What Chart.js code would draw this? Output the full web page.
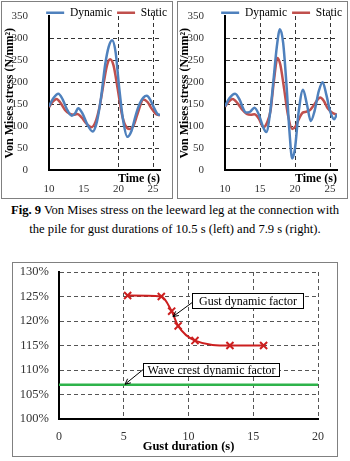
<!DOCTYPE html>
<html><head><meta charset="utf-8">
<script src="https://cdn.jsdelivr.net/npm/chart.js@4/dist/chart.umd.min.js"></script>
<style>
html,body{margin:0;padding:0;background:#fff;}
body{width:350px;height:461px;position:relative;overflow:hidden;font-family:"Liberation Serif","Times New Roman",serif;}
.box{position:absolute;box-sizing:border-box;border:1px solid #808080;background:#fff;}
.box canvas{display:block;}
#cap{position:absolute;left:0;top:201px;width:350px;text-align:center;font-size:12.6px;line-height:19px;color:#000;white-space:nowrap;}
</style></head><body>
<div class="box" style="left:1px;top:1px;width:172px;height:198px;"><canvas id="c1" width="170" height="196"></canvas></div>
<div class="box" style="left:177px;top:1px;width:171px;height:198px;"><canvas id="c2" width="169" height="196"></canvas></div>
<div id="cap"><b>Fig. 9</b> Von Mises stress on the leeward leg at the connection with<br>the pile for gust durations of 10.5 s (left) and 7.9 s (right).</div>
<div class="box" style="left:12px;top:262px;width:326px;height:195px;"><canvas id="c3" width="324" height="193"></canvas></div>
<script>
// ---------- data ----------
const leftDynamicTime  = [10, 10.6, 11.35, 12.0, 12.6, 13.3, 13.8, 14.2, 14.8, 15.5, 16.3, 16.9, 17.5, 18.1, 18.6, 19.1, 19.6, 20.1, 20.7, 21.3, 21.9, 22.5, 23.1, 23.6, 24.1, 24.6, 25.2, 25.7, 26];
const leftDynamicValue = [145, 163, 174, 160, 138, 124, 130, 141, 130, 105, 88, 110, 165, 240, 280, 295, 268, 190, 112, 76, 90, 125, 152, 165, 169, 160, 140, 127, 126];
const leftStaticTime   = [10, 10.5, 11.1, 11.7, 12.3, 13.0, 13.6, 14.1, 14.7, 15.4, 16.1, 16.7, 17.3, 17.9, 18.4, 18.8, 19.3, 19.9, 20.5, 21.0, 21.6, 22.2, 22.8, 23.6, 24.2, 24.8, 25.4, 26];
const leftStaticValue  = [143, 155, 162, 152, 137, 128, 126, 128, 120, 106, 98, 110, 145, 200, 240, 252, 238, 185, 128, 102, 94, 102, 130, 161, 155, 140, 128, 125];

const rightDynamicTime  = [10, 10.6, 11.45, 12.1, 12.6, 13.0, 13.6, 14.2, 14.8, 15.4, 15.9, 16.4, 16.9, 17.4, 17.85, 18.3, 18.8, 19.2, 19.6, 20.0, 20.5, 21.15, 21.7, 22.25, 22.8, 23.4, 23.95, 24.5, 25.0, 25.6, 26];
const rightDynamicValue = [145, 163, 174, 160, 140, 131, 133, 142, 128, 100, 87, 125, 200, 280, 320, 290, 190, 90, 27, 50, 130, 183, 150, 112, 135, 180, 200, 170, 135, 116, 128];
const rightStaticTime   = [10, 10.5, 11.1, 11.8, 12.5, 13.1, 13.7, 14.2, 14.8, 15.5, 16.0, 16.5, 17.0, 17.5, 17.9, 18.4, 19.0, 19.6, 20.1, 20.6, 21.1, 21.6, 22.1, 22.7, 23.2, 23.6, 24.1, 24.7, 25.4, 26];
const rightStaticValue  = [144, 155, 162, 152, 137, 128, 126, 127, 118, 98, 108, 135, 205, 255, 240, 190, 125, 94, 100, 118, 131, 133, 136, 148, 160, 165, 158, 140, 130, 126];

const gustDuration      = [5.3, 7.9, 8.7, 9.2, 10.5, 13.2, 15.8];
const gustDynamicFactor = [125.2, 125.0, 122.0, 119.0, 116.0, 115.0, 115.0];
const waveCrestRange    = [0, 20];
const waveCrestFactor   = 107;

const seriesNames = ['Dynamic', 'Static'];
const yTitleTop = 'Von Mises stress (N/mm²)';
const xTitleTop = 'Time (s)';
const xTitleBottom = 'Gust duration (s)';
const calloutTexts = ['Gust dynamic factor', 'Wave crest dynamic factor'];

// ---------- style ----------
const SERIF = '"Liberation Serif", "Times New Roman", serif';
const BLUE = '#4f81bd', RED = '#c0504d', RED2 = '#cc1f1f', GREEN = '#2eb34a';
Chart.defaults.font.family = SERIF;
Chart.defaults.color = '#000';

const pts = (xs, ys) => xs.map((x, i) => ({x: x, y: ys[i]}));
const clear = 'rgba(0,0,0,0)';

const legendNudge = {
  id: 'legendNudge',
  afterLayout(chart) {
    const l = chart.legend;
    if (!l) return;
    l.top = 0; l.bottom = 24; l.height = 24;
  }
};

function topChart(id, dT, dV, sT, sV, xGrid, titlePad, areaRight) {
  return new Chart(document.getElementById(id), {
    type: 'line',
    data: {datasets: [
      {label: seriesNames[0], data: pts(dT, dV), borderColor: BLUE, backgroundColor: BLUE, borderWidth: 2.5, pointRadius: 0, cubicInterpolationMode: 'monotone'},
      {label: seriesNames[1], data: pts(sT, sV), borderColor: RED, backgroundColor: RED, borderWidth: 2.5, pointRadius: 0, cubicInterpolationMode: 'monotone'}
    ]},
    options: {
      responsive: false, animation: false, devicePixelRatio: 1,
      layout: {padding: 0},
      plugins: {
        tooltip: {enabled: false},
        legend: {position: 'top', align: 'end', fullSize: true, maxHeight: 1,
          labels: {usePointStyle: true, pointStyle: 'line', pointStyleWidth: 18, padding: 5, color: '#000', font: {family: SERIF, size: 11.5}}}
      },
      scales: {
        x: {type: 'linear', min: 10, max: 26,
          ticks: {stepSize: 5, includeBounds: false, padding: 12, color: '#333', font: {family: SERIF, size: 11}},
          grid: {drawTicks: false, lineWidth: 1, color: c => (c.tick && xGrid.includes(c.tick.value)) ? '#333' : clear},
          border: {display: true, color: '#000', width: 2, dash: [4, 3]},
          title: {display: true, text: xTitleTop, align: 'end', color: '#000', font: {family: SERIF, size: 12, weight: 'bold'}, padding: {top: 0, bottom: 8}},
          afterFit: s => { s.height = 24; s.paddingRight = s.chart.width - areaRight; }
        },
        y: {min: 0, max: 350,
          ticks: {stepSize: 50, padding: 21, color: '#333', font: {family: SERIF, size: 11}},
          grid: {drawTicks: false, lineWidth: 1, color: c => (c.tick && c.tick.value > 0 && c.tick.value < 350) ? '#333' : clear},
          border: {display: true, color: '#000', width: 2, dash: [4, 3]},
          title: {display: true, text: yTitleTop, color: '#000', font: {family: SERIF, size: 12, weight: 'bold'}, padding: {top: titlePad, bottom: 0}},
          afterFit: s => { s.width = 47; s.paddingTop = 14; }
        }
      }
    },
    plugins: [legendNudge]
  });
}

topChart('c1', leftDynamicTime, leftDynamicValue, leftStaticTime, leftStaticValue, [20, 25], 1, 158);
topChart('c2', rightDynamicTime, rightDynamicValue, rightStaticTime, rightStaticValue, [15, 20, 25], 0, 159);

// callouts for the bottom chart, in data units
const callouts = [
  {text: calloutTexts[0], box: [10.3, 125.8, 18.85, 122.7], from: [10.3, 123.8], to: [8.8, 120.9]},
  {text: calloutTexts[1], box: [6.5, 111.5, 17.0, 108.7], from: [6.5, 110.1], to: [5.1, 107.1]}
];
const calloutPlugin = {
  id: 'callouts',
  afterDatasetsDraw(chart) {
    const {ctx, scales: {x, y}} = chart;
    ctx.save();
    callouts.forEach(c => {
      const fx = x.getPixelForValue(c.from[0]), fy = y.getPixelForValue(c.from[1]);
      const tx = x.getPixelForValue(c.to[0]), ty = y.getPixelForValue(c.to[1]);
      ctx.strokeStyle = '#000'; ctx.lineWidth = 1; ctx.setLineDash([]);
      ctx.beginPath(); ctx.moveTo(fx, fy); ctx.lineTo(tx, ty); ctx.stroke();
      const a = Math.atan2(ty - fy, tx - fx), L = 6;
      ctx.beginPath();
      ctx.moveTo(tx - L * Math.cos(a - 0.45), ty - L * Math.sin(a - 0.45));
      ctx.lineTo(tx, ty);
      ctx.lineTo(tx - L * Math.cos(a + 0.45), ty - L * Math.sin(a + 0.45));
      ctx.stroke();
      const x1 = Math.round(x.getPixelForValue(c.box[0])) + 0.5, y1 = Math.round(y.getPixelForValue(c.box[1])) + 0.5;
      const x2 = Math.round(x.getPixelForValue(c.box[2])) + 0.5, y2 = Math.round(y.getPixelForValue(c.box[3])) + 0.5;
      ctx.fillStyle = '#fff'; ctx.fillRect(x1, y1, x2 - x1, y2 - y1);
      ctx.strokeRect(x1, y1, x2 - x1, y2 - y1);
      ctx.fillStyle = '#000'; ctx.font = '12px ' + SERIF; ctx.textAlign = 'center'; ctx.textBaseline = 'middle';
      ctx.fillText(c.text, (x1 + x2) / 2, (y1 + y2) / 2 + 0.5);
    });
    ctx.restore();
  }
};

new Chart(document.getElementById('c3'), {
  type: 'line',
  data: {datasets: [
    {label: 'Wave crest dynamic factor', data: pts(waveCrestRange, waveCrestRange.map(() => waveCrestFactor)), borderColor: GREEN, backgroundColor: GREEN, borderWidth: 2.5, pointRadius: 0},
    {label: 'Gust dynamic factor', data: pts(gustDuration, gustDynamicFactor), borderColor: RED2, backgroundColor: RED2, borderWidth: 2, pointStyle: 'crossRot', pointRadius: 5, pointBorderWidth: 2, cubicInterpolationMode: 'monotone'}
  ]},
  options: {
    responsive: false, animation: false, devicePixelRatio: 1,
    layout: {padding: 0},
    plugins: {legend: {display: false}, tooltip: {enabled: false}},
    scales: {
      x: {type: 'linear', min: 0, max: 20,
        ticks: {stepSize: 5, padding: 11, color: '#333', font: {family: SERIF, size: 12}},
        grid: {drawTicks: false, lineWidth: 1, color: c => (c.tick && c.tick.value > 0) ? '#555' : clear},
        border: {display: true, color: '#000', width: 2, dash: [4, 3]},
        title: {display: true, text: xTitleBottom, color: '#000', font: {family: SERIF, size: 12.5, weight: 'bold'}, padding: {top: 0, bottom: 1.5}},
        afterFit: s => { s.height = 37; s.paddingRight = 19; }
      },
      y: {min: 100, max: 130,
        ticks: {stepSize: 5, padding: 10, color: '#333', font: {family: SERIF, size: 12.5}, callback: v => v + '%'},
        grid: {drawTicks: false, lineWidth: 1, color: c => (c.tick && c.tick.value > 100) ? '#555' : clear},
        border: {display: true, color: '#000', width: 2, dash: [4, 3]},
        afterFit: s => { s.width = 46; s.paddingTop = 9; }
      }
    }
  },
  plugins: [calloutPlugin]
});
</script>
</body></html>
